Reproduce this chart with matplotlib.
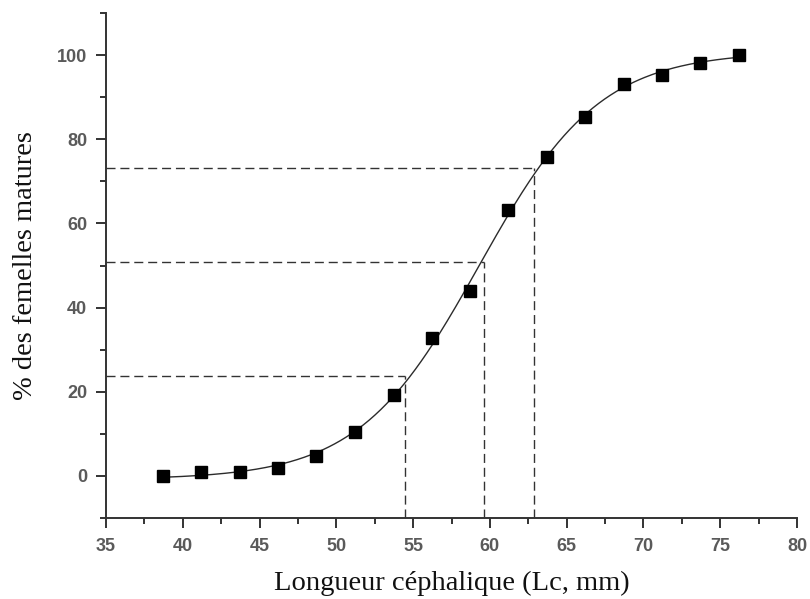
import numpy as np
import matplotlib
matplotlib.use("Agg")
import matplotlib.pyplot as plt
from matplotlib.ticker import MultipleLocator

# Head length classes (mm) and percentage of mature females
lc_mm = [38.7, 41.2, 43.7, 46.2, 48.7, 51.2, 53.75, 56.2, 58.7, 61.2,
         63.7, 66.2, 68.7, 71.2, 73.7, 76.2]
pct_mature = [0.0, 0.9, 0.9, 2.0, 4.7, 10.4, 19.2, 32.7, 44.0, 63.3,
              75.8, 85.3, 93.1, 95.3, 98.1, 100.0]

# Reference lengths (L25, L50, L75) and corresponding maturity levels
ref_x = [54.5, 59.6, 62.9]
ref_y = [23.7, 50.9, 73.2]

x = np.array(lc_mm)
y = np.array(pct_mature)


def boltzmann_fit(x, y):
    """Least-squares Boltzmann sigmoid: y = A2 + (A1 - A2) / (1 + exp((x - x0)/dx))."""
    best = None
    for x0 in np.linspace(55, 64, 181):
        for dx in np.linspace(2.0, 6.0, 161):
            g = 1.0 / (1.0 + np.exp((x - x0) / dx))
            M = np.column_stack([g, 1 - g])
            coef, *_ = np.linalg.lstsq(M, y, rcond=None)
            sse = np.sum((M @ coef - y) ** 2)
            if best is None or sse < best[0]:
                best = (sse, x0, dx, coef)
    _, x0, dx, (a1, a2) = best
    return lambda t: a2 + (a1 - a2) / (1.0 + np.exp((t - x0) / dx))


model = boltzmann_fit(x, y)
xs = np.linspace(x.min(), x.max(), 400)

fig = plt.figure(figsize=(8.1, 5.99), dpi=100)
ax = fig.add_axes([0.1309, 0.1352, 0.984 - 0.1309, 0.9783 - 0.1352])

dark = "#2b2b2b"
dash_kw = dict(color="#333333", lw=1.0, dashes=(6.5, 3.5))
for rx, ry in zip(ref_x, ref_y):
    ax.plot([35, rx], [ry, ry], **dash_kw)
    ax.plot([rx, rx], [-10, ry], **dash_kw)

ax.plot(xs, model(xs), color=dark, lw=1.0, zorder=3)
ax.plot(x, y, ls="none", marker="s", ms=8, color="black", zorder=4)

ax.set_xlim(35, 80)
ax.set_ylim(-10, 110)
ax.xaxis.set_major_locator(MultipleLocator(5))
ax.xaxis.set_minor_locator(MultipleLocator(2.5))
ax.yaxis.set_minor_locator(MultipleLocator(10))
ax.set_yticks([0, 20, 40, 60, 80, 100])

for s in ("top", "right"):
    ax.spines[s].set_visible(False)
for s in ("left", "bottom"):
    ax.spines[s].set_color("#333333")
    ax.spines[s].set_linewidth(1.4)

ax.tick_params(which="major", direction="out", length=7.5, width=1.4,
               color="#333333", labelsize=13, labelcolor="#5a5a5a")
ax.tick_params(axis="x", which="major", pad=7)
ax.tick_params(axis="y", which="major", pad=6)
ax.tick_params(which="minor", direction="out", length=4, width=1.4,
               color="#333333")
for lab in ax.get_xticklabels() + ax.get_yticklabels():
    lab.set_family("Liberation Sans")
    lab.set_fontweight("bold")

ax.set_xlabel("Longueur céphalique (Lc, mm)", family="Liberation Serif",
              fontsize=20.5, color="#111111", labelpad=11)
ax.set_ylabel("% des femelles matures", family="Liberation Serif",
              fontsize=20.5, color="#111111", labelpad=14)

fig.savefig("out.png", dpi=100)
